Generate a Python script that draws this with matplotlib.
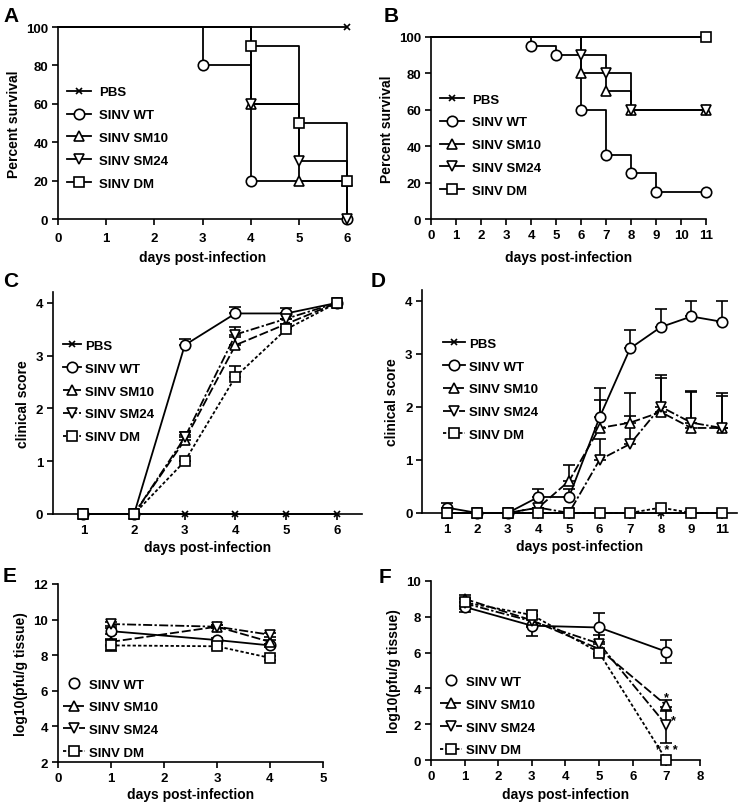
import matplotlib
matplotlib.use("Agg")
import matplotlib.pyplot as plt
from matplotlib.lines import Line2D

plt.rcParams["font.family"] = ["Liberation Sans", "DejaVu Sans"]
plt.rcParams["font.weight"] = "bold"
plt.rcParams["axes.labelweight"] = "bold"
plt.rcParams["font.size"] = 9.5
plt.rcParams["axes.linewidth"] = 1.2
plt.rcParams["xtick.major.width"] = 1.2
plt.rcParams["ytick.major.width"] = 1.2
plt.rcParams["xtick.major.size"] = 4
plt.rcParams["ytick.major.size"] = 4

# ── Data ──────────────────────────────────────────────────────────────────────
GROUPS = ["PBS", "SINV WT", "SINV SM10", "SINV SM24", "SINV DM"]

# A: survival (days, percent)
a_pbs_days, a_pbs_surv = [0, 6], [100, 100]
a_wt_days, a_wt_surv = [0, 3, 4, 6], [100, 80, 20, 0]
a_sm10_days, a_sm10_surv = [0, 4, 5, 6], [100, 60, 20, 20]
a_sm24_days, a_sm24_surv = [0, 4, 5, 6], [100, 60, 30, 0]
a_dm_days, a_dm_surv = [0, 4, 5, 6], [100, 90, 50, 20]

# B: survival
b_pbs_days, b_pbs_surv = [0, 11], [100, 100]
b_wt_days, b_wt_surv = [0, 4, 5, 6, 7, 8, 9, 11], [100, 95, 90, 60, 35, 25, 15, 15]
b_sm10_days, b_sm10_surv = [0, 6, 7, 8, 11], [100, 80, 70, 60, 60]
b_sm24_days, b_sm24_surv = [0, 6, 7, 8, 11], [100, 90, 80, 60, 60]
b_dm_days, b_dm_surv = [0, 11], [100, 100]

# C: clinical score
c_days = ["1", "2", "3", "4", "5", "6"]
c_pbs = [0, 0, 0, 0, 0, 0]
c_wt = [0, 0, 3.2, 3.8, 3.8, 4.0]
c_wt_err = [0, 0, 0.12, 0.12, 0.1, 0]
c_sm10 = [0, 0, 1.4, 3.2, 3.6, 4.0]
c_sm10_err = [0, 0, 0.1, 0.15, 0.1, 0]
c_sm24 = [0, 0, 1.45, 3.4, 3.7, 4.0]
c_sm24_err = [0, 0, 0.1, 0.15, 0.1, 0]
c_dm = [0, 0, 1.0, 2.6, 3.5, 4.0]
c_dm_err = [0, 0, 0, 0.2, 0.05, 0]

# D: clinical score
d_days = ["1", "2", "3", "4", "5", "6", "7", "8", "9", "11"]
d_pbs = [0, 0, 0, 0, 0, 0, 0, 0, 0, 0]
d_wt = [0.1, 0, 0, 0.3, 0.3, 1.8, 3.1, 3.5, 3.7, 3.6]
d_wt_err = [0.08, 0, 0, 0.15, 0.15, 0.55, 0.35, 0.35, 0.3, 0.4]
d_sm10 = [0, 0, 0, 0.1, 0.6, 1.6, 1.7, 1.9, 1.6, 1.6]
d_sm10_err = [0, 0, 0, 0, 0.3, 0.52, 0.55, 0.7, 0.68, 0.65]
d_sm24 = [0, 0, 0, 0.1, 0, 1.0, 1.3, 2.0, 1.7, 1.6]
d_sm24_err = [0, 0, 0, 0, 0, 0.4, 0.53, 0.55, 0.6, 0.6]
d_dm = [0, 0, 0, 0, 0, 0, 0, 0.1, 0, 0]

# E: viral titer
e_days = [1, 3, 4]
e_wt, e_wt_err = [9.35, 8.85, 8.55], [0.15, 0.1, 0.1]
e_sm10, e_sm10_err = [8.75, 9.6, 8.75], [0.15, 0.1, 0.1]
e_sm24, e_sm24_err = [9.75, 9.6, 9.15], [0.1, 0.1, 0.1]
e_dm, e_dm_err = [8.55, 8.5, 7.85], [0.3, 0.15, 0.1]

# F: viral titer
f_days = [1, 3, 5, 7]
f_wt, f_wt_err = [8.55, 7.5, 7.4, 6.05], [0.3, 0.6, 0.8, 0.65]
f_sm10, f_sm10_err = [9.0, 7.8, 6.2, 3.05], [0.2, 0.3, 0.3, 0.3]
f_sm24, f_sm24_err = [8.75, 7.75, 6.5, 1.95], [0.3, 0.3, 0.5, 1.0]
f_dm, f_dm_err = [8.8, 8.1, 6.0, 0.0], [0.2, 0.2, 0.2, 0.0]

MARKERS = {"PBS": "x", "SINV WT": "o", "SINV SM10": "^",
           "SINV SM24": "v", "SINV DM": "s"}
DASHES = {"PBS": "-", "SINV WT": "-", "SINV SM10": (0, (5, 1.6)),
          "SINV SM24": (0, (5, 1.3, 1.3, 1.3)), "SINV DM": (0, (1.8, 1.2))}
LW = 1.3
MS = 7.5


def style_ax(ax, pad=3):
    for s in ("top", "right"):
        ax.spines[s].set_visible(False)
    ax.tick_params(labelsize=9.5, pad=3)
    ax.tick_params(axis="x", pad=pad)


def add_label(ax, xlabel, ylabel, xpad=3):
    ax.set_xlabel(xlabel, fontsize=10, labelpad=xpad)
    ax.set_ylabel(ylabel, fontsize=10, labelpad=4)


def handle(g, solid=False, no_line=False):
    ls = "None" if no_line else ("-" if solid else DASHES[g])
    ms = 5 if g == "PBS" else MS
    return Line2D([], [], color="k", lw=LW, ls=ls, marker=MARKERS[g],
                  mfc="white", mec="k", ms=ms, mew=1.2)


def survival(ax, days, surv, g):
    ms = 5 if g == "PBS" else MS
    ax.plot(days, surv, drawstyle="steps-post", color="k", lw=LW,
            marker=MARKERS[g], mfc="white", mec="k", ms=ms, mew=1.2,
            markevery=list(range(1, len(days))), clip_on=False, zorder=3)


def score(ax, y, err, g):
    x = list(range(1, len(y) + 1))
    if err is not None:
        ax.errorbar(x, y, yerr=[[0] * len(err), err], fmt="none", ecolor="k",
                    elinewidth=1.2, capsize=4, capthick=1.2, zorder=2)
    ms = 5 if g == "PBS" else MS
    ax.plot(x, y, color="k", lw=LW, ls=DASHES[g], marker=MARKERS[g],
            mfc="white", mec="k", ms=ms, mew=1.2, clip_on=False, zorder=3)


def titer(ax, x, y, err, g):
    ax.errorbar(x, y, yerr=err, fmt="none", ecolor="k", elinewidth=1.2,
                capsize=4, capthick=1.2, zorder=2)
    ax.plot(x, y, color="k", lw=LW, ls=DASHES[g], marker=MARKERS[g],
            mfc="white", mec="k", ms=MS, mew=1.2, clip_on=False, zorder=3)


fig = plt.figure(figsize=(7.38, 8.03), dpi=100)

ax_a = fig.add_axes([0.0786, 0.726, 0.392, 0.239])
ax_b = fig.add_axes([0.584, 0.726, 0.373, 0.227])
ax_c = fig.add_axes([0.0718, 0.3587, 0.419, 0.276])
ax_d = fig.add_axes([0.572, 0.360, 0.427, 0.2777])
ax_e = fig.add_axes([0.0786, 0.0498, 0.359, 0.2217])
ax_f = fig.add_axes([0.584, 0.0523, 0.3645, 0.223])

# A
survival(ax_a, a_pbs_days, a_pbs_surv, "PBS")
survival(ax_a, a_wt_days, a_wt_surv, "SINV WT")
survival(ax_a, a_sm10_days, a_sm10_surv, "SINV SM10")
survival(ax_a, a_sm24_days, a_sm24_surv, "SINV SM24")
survival(ax_a, a_dm_days, a_dm_surv, "SINV DM")
ax_a.set_xlim(0, 6)
ax_a.set_ylim(0, 100)
ax_a.set_xticks(range(0, 7))
ax_a.set_yticks(range(0, 101, 20))

# B
survival(ax_b, b_pbs_days, b_pbs_surv, "PBS")
survival(ax_b, b_wt_days, b_wt_surv, "SINV WT")
survival(ax_b, b_sm10_days, b_sm10_surv, "SINV SM10")
survival(ax_b, b_sm24_days, b_sm24_surv, "SINV SM24")
survival(ax_b, b_dm_days, b_dm_surv, "SINV DM")
ax_b.set_xlim(0, 11)
ax_b.set_ylim(0, 100)
ax_b.set_xticks(range(0, 12))
ax_b.set_yticks(range(0, 101, 20))

for ax, tpad, lpad in ((ax_a, 5.5, 4), (ax_b, 3.5, 6.5)):
    style_ax(ax, pad=tpad)
    add_label(ax, "days post-infection", "Percent survival", xpad=lpad)
    ax.legend([handle(g, solid=True) for g in GROUPS], GROUPS, loc="upper left",
              bbox_to_anchor=(0.0, 0.74), frameon=False, fontsize=9.5,
              handlelength=1.8, handletextpad=0.6, labelspacing=0.8,
              borderaxespad=0.3)

# C
score(ax_c, c_pbs, None, "PBS")
score(ax_c, c_wt, c_wt_err, "SINV WT")
score(ax_c, c_sm10, c_sm10_err, "SINV SM10")
score(ax_c, c_sm24, c_sm24_err, "SINV SM24")
score(ax_c, c_dm, c_dm_err, "SINV DM")
ax_c.set_xlim(0.4, 6.5)
ax_c.set_xticks(range(1, len(c_days) + 1))
ax_c.set_xticklabels(c_days)

# D
score(ax_d, d_pbs, None, "PBS")
score(ax_d, d_wt, d_wt_err, "SINV WT")
score(ax_d, d_sm10, d_sm10_err, "SINV SM10")
score(ax_d, d_sm24, d_sm24_err, "SINV SM24")
score(ax_d, d_dm, None, "SINV DM")
ax_d.set_xlim(0.2, 10.5)
ax_d.set_xticks(range(1, len(d_days) + 1))
ax_d.set_xticklabels(d_days)

for ax, lx, hl in ((ax_c, 0.015, 1.35), (ax_d, 0.05, 1.65)):
    style_ax(ax)
    ax.set_ylim(0, 4.2)
    ax.set_yticks(range(0, 5))
    add_label(ax, "days post-infection", "clinical score")
    ax.legend([handle(g) for g in GROUPS], GROUPS, loc="upper left",
              bbox_to_anchor=(lx, 0.81), frameon=False, fontsize=9.5,
              handlelength=hl, handletextpad=0.3, labelspacing=0.8,
              borderaxespad=0.0)

# E
titer(ax_e, e_days, e_wt, e_wt_err, "SINV WT")
titer(ax_e, e_days, e_sm10, e_sm10_err, "SINV SM10")
titer(ax_e, e_days, e_sm24, e_sm24_err, "SINV SM24")
titer(ax_e, e_days, e_dm, e_dm_err, "SINV DM")
ax_e.set_xlim(0, 5)
ax_e.set_ylim(2, 12)
ax_e.set_xticks(range(0, 6))
ax_e.set_yticks(range(2, 13, 2))

# F
titer(ax_f, f_days, f_wt, f_wt_err, "SINV WT")
titer(ax_f, f_days, f_sm10, f_sm10_err, "SINV SM10")
titer(ax_f, f_days, f_sm24, f_sm24_err, "SINV SM24")
titer(ax_f, f_days, f_dm, f_dm_err, "SINV DM")
ax_f.set_xlim(0, 8)
ax_f.set_ylim(0, 10)
ax_f.set_xticks(range(0, 9))
ax_f.set_yticks(range(0, 11, 2))
ax_f.text(7.0, 3.2, "*", ha="center", va="bottom", fontsize=9)
ax_f.text(7.22, 1.9, "*", ha="center", va="bottom", fontsize=9)
ax_f.text(7.0, 0.25, "* * *", ha="center", va="bottom", fontsize=9)

for ax, lx, xp in ((ax_e, 0.0, 2.5), (ax_f, 0.015, 4)):
    style_ax(ax)
    add_label(ax, "days post-infection", "log10(pfu/g tissue)", xpad=xp)
    hs = [handle("SINV WT", no_line=True)] + [handle(g) for g in GROUPS[2:]]
    ax.legend(hs, GROUPS[1:], loc="upper left", bbox_to_anchor=(lx, 0.50),
              frameon=False, fontsize=9.5, handlelength=1.65, handletextpad=0.3,
              labelspacing=0.8, borderaxespad=0.0)

# panel letters
for letter, x, y in [("A", 3, 22), ("B", 384, 22), ("C", 3, 287),
                     ("D", 371, 287), ("E", 3, 582), ("F", 379, 583)]:
    fig.text(x / 738, 1 - y / 803, letter, fontsize=15, fontweight="bold",
             va="baseline", ha="left")

fig.savefig("out.png", dpi=100)
